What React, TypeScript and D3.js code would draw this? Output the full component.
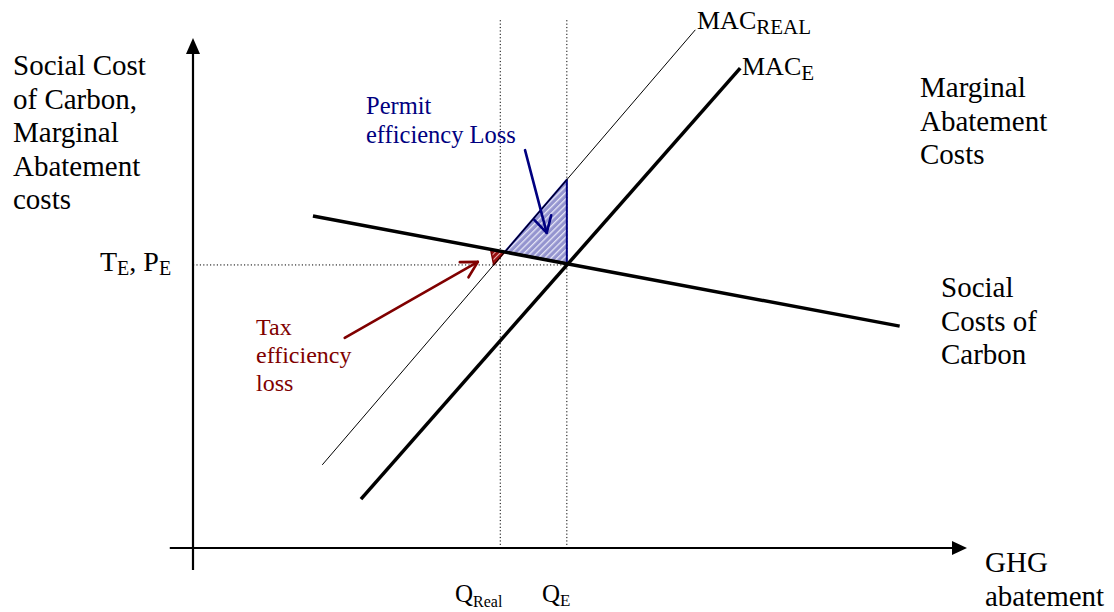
import React from "react";
import * as d3 from "d3";

// ---- data (abstract diagram units: q = abatement, p = cost) ----
const axisQ = [-3, 100];
const axisP = [-4.3, 100];
const sccLine = [
  { q: 15.5, p: 65.1 },
  { q: 91.3, p: 43.5 },
];
const macELine = [
  { q: 21.7, p: 9.6 },
  { q: 70.7, p: 94.1 },
];
const macRealLine = [
  { q: 16.7, p: 16.3 },
  { q: 64.9, p: 101.6 },
];
const qE = 48.3;
const qReal = 39.7;
const tE = 55.5;
const guideTopP = 103.5;
const permitArrow = { from: { q: 42.9, p: 78.0 }, to: { q: 45.7, p: 61.8 } };
const taxArrow = { from: { q: 19.6, p: 41.2 }, to: { q: 36.8, p: 56.1 } };

const yLabelLines = ["Social Cost", "of Carbon,", "Marginal", "Abatement", "costs"];
const macLabelLines = ["Marginal", "Abatement", "Costs"];
const sccLabelLines = ["Social", "Costs of", "Carbon"];
const xLabelLines = ["GHG", "abatement"];
const permitLines = ["Permit", "efficiency Loss"];
const taxLines = ["Tax", "efficiency", "loss"];

type Pt = { q: number; p: number };

const X = d3.scaleLinear().domain([0, 100]).range([193, 967]);
const Y = d3.scaleLinear().domain([0, 100]).range([548, 38]);

const pAt = (s: Pt[], q: number) => s[0].p + ((s[1].p - s[0].p) * (q - s[0].q)) / (s[1].q - s[0].q);
const qAt = (s: Pt[], p: number) => s[0].q + ((s[1].q - s[0].q) * (p - s[0].p)) / (s[1].p - s[0].p);
function intersect(a: Pt[], b: Pt[]): Pt {
  const ma = (a[1].p - a[0].p) / (a[1].q - a[0].q);
  const mb = (b[1].p - b[0].p) / (b[1].q - b[0].q);
  const q = (b[0].p - a[0].p + ma * a[0].q - mb * b[0].q) / (ma - mb);
  return { q, p: pAt(a, q) };
}

const line = d3
  .line<Pt>()
  .x((d) => X(d.q))
  .y((d) => Y(d.p));

function arrowHead(tip: Pt, from: Pt, len = 18, ang = (29 * Math.PI) / 180) {
  const tx = X(tip.q), ty = Y(tip.p);
  const dx = X(from.q) - tx, dy = Y(from.p) - ty;
  const L = Math.hypot(dx, dy);
  const ux = dx / L, uy = dy / L;
  const r = (a: number) => [ux * Math.cos(a) - uy * Math.sin(a), ux * Math.sin(a) + uy * Math.cos(a)];
  const [ax, ay] = r(ang);
  const [bx, by] = r(-ang);
  return `M${tx + ax * len},${ty + ay * len}L${tx},${ty}L${tx + bx * len},${ty + by * len}`;
}

const FONT = "'Liberation Serif', 'Times New Roman', serif";
const NAVY = "#000080";
const MAROON = "#800000";

export default function App() {
  const cross = intersect(macRealLine, sccLine);
  const permitTri: Pt[] = [cross, { q: qE, p: pAt(macRealLine, qE) }, { q: qE, p: pAt(sccLine, qE) }];
  const qTax = qAt(macRealLine, tE);
  const taxTri: Pt[] = [{ q: qTax - 0.4, p: pAt(sccLine, qTax - 0.4) }, cross, { q: qTax, p: tE }];
  const x0 = X(0), y0 = Y(0);

  const block = (lines: string[], x: number, y: number, dy: number, size: number, color = "#000") =>
    lines.map((t, i) => (
      <text key={t + i} x={x} y={y + i * dy} fontSize={size} fill={color} fontFamily={FONT}>
        {t}
      </text>
    ));

  return (
    <svg
      width={1114}
      height={612}
      style={{ position: "absolute", left: 0, top: 0, background: "#fff" }}
    >
      <defs>
        <pattern id="blueHatch" width="4.5" height="4.5" patternUnits="userSpaceOnUse" patternTransform="rotate(45)">
          <rect width="4.5" height="4.5" fill="#9494cf" />
          <rect width="1.3" height="4.5" fill="#e6e6f6" />
        </pattern>
        <pattern id="redHatch" width="4" height="4" patternUnits="userSpaceOnUse" patternTransform="rotate(45)">
          <rect width="4" height="4" fill="#9a1010" />
          <rect width="1" height="4" fill="#e8b0b0" />
        </pattern>
      </defs>

      {/* guides */}
      <g stroke="#000" strokeWidth={1} strokeDasharray="1.2,2.2" fill="none">
        <line x1={X(qReal)} x2={X(qReal)} y1={Y(guideTopP)} y2={y0} />
        <line x1={X(qE)} x2={X(qE)} y1={Y(guideTopP)} y2={y0} />
        <line x1={x0} x2={X(qE)} y1={Y(tE)} y2={Y(tE)} />
      </g>

      {/* shaded areas */}
      <path d={line(permitTri)! + "Z"} fill="url(#blueHatch)" stroke={NAVY} strokeWidth={2} strokeLinejoin="round" />
      <path d={line(taxTri)! + "Z"} fill="url(#redHatch)" stroke={MAROON} strokeWidth={1.5} strokeLinejoin="round" />

      {/* curves */}
      <path d={line(macRealLine)!} stroke="#000" strokeWidth={1} fill="none" />
      <path d={line(sccLine)!} stroke="#000" strokeWidth={3.5} fill="none" />
      <path d={line(macELine)!} stroke="#000" strokeWidth={3.5} fill="none" />

      {/* axes */}
      <line x1={x0} x2={x0} y1={Y(axisP[0])} y2={Y(axisP[1]) + 10} stroke="#000" strokeWidth={2.2} />
      <line x1={X(axisQ[0])} x2={X(axisQ[1]) - 10} y1={y0} y2={y0} stroke="#000" strokeWidth={2.2} />
      <path d={`M${x0},${Y(axisP[1])}L${x0 - 7},${Y(axisP[1]) + 16}L${x0 + 7},${Y(axisP[1]) + 16}Z`} fill="#000" />
      <path d={`M${X(axisQ[1])},${y0}L${X(axisQ[1]) - 15},${y0 - 7}L${X(axisQ[1]) - 15},${y0 + 7}Z`} fill="#000" />

      {/* annotation arrows */}
      <g fill="none" strokeWidth={2.6} strokeLinecap="round" strokeLinejoin="round">
        <path d={line([permitArrow.from, permitArrow.to])!} stroke={NAVY} />
        <path d={arrowHead(permitArrow.to, permitArrow.from)} stroke={NAVY} />
        <path d={line([taxArrow.from, taxArrow.to])!} stroke={MAROON} />
        <path d={arrowHead(taxArrow.to, taxArrow.from)} stroke={MAROON} />
      </g>

      {/* labels */}
      {block(yLabelLines, 13, 75, 33.5, 29)}
      {block(macLabelLines, 920, 97, 33.5, 29)}
      {block(sccLabelLines, 941, 297, 33.5, 29)}
      {block(xLabelLines, 985, 572, 34, 29)}
      {block(permitLines, 366, 114, 29, 24.5, NAVY)}
      {block(taxLines, 256, 335, 28, 24, MAROON)}

      <text x={100} y={271} fontSize={28} fontFamily={FONT}>
        T<tspan fontSize={20} dy={4}>E</tspan>
        <tspan dy={-4}>, P</tspan>
        <tspan fontSize={20} dy={4}>E</tspan>
      </text>
      <text x={455} y={602} fontSize={25} fontFamily={FONT}>
        Q<tspan fontSize={16} dy={5}>Real</tspan>
      </text>
      <text x={542} y={602} fontSize={25} fontFamily={FONT}>
        Q<tspan fontSize={17} dy={4}>E</tspan>
      </text>
      <text x={697} y={29} fontSize={26} fontFamily={FONT}>
        MAC<tspan fontSize={21} dy={5}>REAL</tspan>
      </text>
      <text x={742} y={75} fontSize={26} fontFamily={FONT}>
        MAC<tspan fontSize={21} dy={5}>E</tspan>
      </text>
    </svg>
  );
}
